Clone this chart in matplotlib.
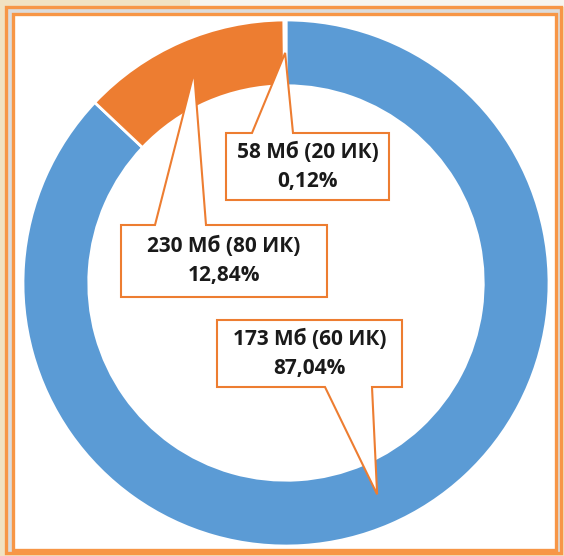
import math
import matplotlib.pyplot as plt
from matplotlib.patches import Polygon, Rectangle

# данные
sizes = ['173 Мб (60 ИК)', '230 Мб (80 ИК)', '58 Мб (20 ИК)']
shares = [87.04, 12.84, 0.12]
share_labels = ['87,04%', '12,84%', '0,12%']
colors = ['#5B9BD5', '#ED7D31', '#A5A5A5']

W, H = 564, 556
CX, CY, R = 286, 283, 263  # центр и радиус кольца в пикселях


def px(x, y):
    # пиксели картинки -> координаты осей
    return (x - CX) / R, (CY - y) / R


# рамки подписей: left, right, top, bottom, notch0, notch1, side
boxes = [
    (217, 402, 320, 387, 325, 372, 'bottom'),
    (121, 327, 225, 297, 155, 206, 'top'),
    (226, 389, 133, 200, 252, 293, 'top'),
]

fig = plt.figure(figsize=(W / 100, H / 100), dpi=100)
fig.patch.set_facecolor('#F1E2C2')

# белая полоса сверху справа (фон слайда)
fig.patches.append(Rectangle((190 / W, 1 - 7 / H), 1, 7 / H, transform=fig.transFigure,
                             facecolor='#F7F5F0', edgecolor='none', zorder=-3))
# рамка
fig.patches.append(Rectangle((6 / W, 1 - 553 / H), 555 / W, 546 / H, transform=fig.transFigure,
                             facecolor='#DCDCDC', edgecolor='#F79646', linewidth=2.4, zorder=-2))
fig.patches.append(Rectangle((13 / W, 1 - 550 / H), 543 / W, 536 / H, transform=fig.transFigure,
                             facecolor='white', edgecolor='#F79646', linewidth=2.4, zorder=-1))

ax = fig.add_axes([0, 0, 1, 1])
ax.patch.set_alpha(0)

wedges, _ = ax.pie(shares, colors=colors, startangle=90, counterclock=False, radius=1,
                   wedgeprops=dict(width=0.25, edgecolor='white', linewidth=2))
ax.set_xlim(-CX / R, (W - CX) / R)
ax.set_ylim((CY - H) / R, CY / R)
ax.set_aspect('auto')
ax.axis('off')

for w, s, p, b in zip(wedges, sizes, share_labels, boxes):
    mid = math.radians((w.theta1 + w.theta2) / 2)
    rm = 1 - 0.125
    tip = (rm * math.cos(mid), rm * math.sin(mid))
    x0, x1, yt, yb, n0, n1, side = b
    if side == 'top':
        pts = [px(x0, yb), px(x1, yb), px(x1, yt), px(n1, yt), tip, px(n0, yt), px(x0, yt)]
    else:
        pts = [px(x0, yt), px(x1, yt), px(x1, yb), px(n1, yb), tip, px(n0, yb), px(x0, yb)]
    ax.add_patch(Polygon(pts, closed=True, facecolor='white', edgecolor='#ED7D31',
                         linewidth=1.5, zorder=5))
    tx, ty = px((x0 + x1) / 2, (yt + yb) / 2)
    ax.text(tx, ty, s + '\n' + p, ha='center', va='center', fontsize=15,
            fontweight='bold', family='Open Sans', color='#1A1A1A', linespacing=1.5, zorder=6)

plt.savefig('out.png', dpi=100)
